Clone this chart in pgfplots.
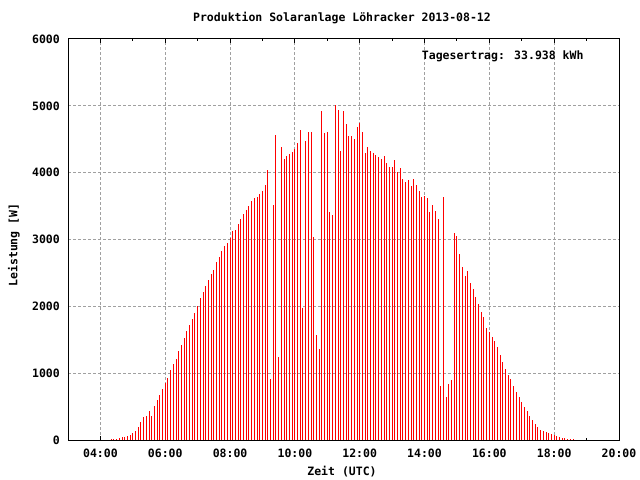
\documentclass[border=0pt]{standalone}
\usepackage{pgfplots}
\usepackage{pgfplotstable}
\usepackage{fontspec}
\setmainfont{DejaVu Sans Mono}
\pgfplotsset{compat=1.18}
\newcommand{\gfont}{\fontsize{11.5bp}{13bp}\selectfont\bfseries}
\definecolor{gridgray}{RGB}{160,160,160}

% Leistung in W, t = Minuten seit 00:00 UTC
\pgfplotstableread{
t p
260 15
265 15
270 20
275 30
280 45
285 50
290 65
295 80
300 104
305 134
310 194
315 269
320 343
325 358
330 433
335 358
340 507
345 597
350 672
355 761
360 851
365 925
370 1045
375 1134
380 1209
385 1328
390 1418
395 1522
400 1627
405 1716
410 1806
415 1896
420 2000
425 2119
430 2209
435 2298
440 2388
445 2478
450 2537
455 2657
460 2731
465 2821
470 2896
475 2955
480 3015
485 3134
490 3149
495 3239
500 3313
505 3388
510 3448
515 3507
520 3582
525 3627
530 3642
535 3687
540 3731
545 3821
550 4045
555 910
560 3522
565 4567
570 1239
575 4388
580 4209
585 4254
590 4284
595 4313
600 4358
605 4448
610 4642
615 1970
620 4478
625 4612
630 4612
635 3030
640 1567
645 1358
650 4925
655 4597
660 4612
665 3418
670 3373
675 5015
680 4940
685 4328
690 4925
695 4731
700 4552
705 4552
710 4507
715 4686
720 4746
725 4612
730 4298
735 4388
740 4328
745 4298
750 4269
755 4239
760 4209
765 4254
770 4149
775 4090
780 4090
785 4194
790 4015
795 4075
800 3910
805 3866
810 3896
815 3806
820 3910
825 3821
830 3731
835 3642
840 3657
845 3627
850 3418
855 3522
860 3433
865 3313
870 806
875 3642
880 642
885 836
890 896
895 3090
900 3045
905 2776
910 2582
915 2448
920 2522
925 2343
930 2254
935 2134
940 2030
945 1910
950 1836
955 1672
960 1612
965 1537
970 1478
975 1388
980 1269
985 1164
990 1060
995 970
1000 910
1005 806
1010 716
1015 642
1020 567
1025 493
1030 433
1035 358
1040 299
1045 239
1050 194
1055 149
1060 134
1065 119
1070 104
1075 90
1080 75
1085 60
1090 45
1095 35
1100 30
1105 15
1110 15
1115 15
}\leistung

\begin{document}
\begin{tikzpicture}[font=\gfont]
\path[use as bounding box] (0,0) rectangle (640bp,480bp);
\begin{axis}[
    at={(68bp,40bp)}, anchor=south west,
    scale only axis,
    width=551bp, height=401bp,
    xmin=180, xmax=1200,
    ymin=0, ymax=6000,
    xtick={240,360,480,600,720,840,960,1080,1200},
    xticklabels={04:00,06:00,08:00,10:00,12:00,14:00,16:00,18:00,20:00},
    minor xtick={300,420,540,660,780,900,1020,1140},
    ytick={0,1000,2000,3000,4000,5000,6000},
    yticklabels={0,1000,2000,3000,4000,5000,6000},
    xmajorgrids, ymajorgrids,
    major grid style={gridgray, line width=1bp, dash pattern=on 3bp off 2bp},
    tick align=inside,
    major tick length=4bp, minor tick length=2bp,
    xtick style={black, line width=1bp},
    ytick style={draw=none},
    axis line style={black, line width=1bp},
    ticklabel style={font=\gfont},
    yticklabel style={inner sep=0pt, xshift=-8bp},
    xticklabel style={inner sep=0pt, yshift=-9bp},
    /pgf/number format/assume math mode=true,
]
\addplot[ycomb, red, line width=1bp] table[x=t, y=p] {\leistung};
\end{axis}
\node at (342bp,462bp) {Produktion Solaranlage Löhracker 2013-08-12};
\node[anchor=east] at (587bp,424bp) {Tagesertrag: 33.938 kWh};
\node at (342bp,8bp) {Zeit (UTC)};
\node[rotate=90] at (14bp,235bp) {Leistung [W]};
\end{tikzpicture}
\end{document}
